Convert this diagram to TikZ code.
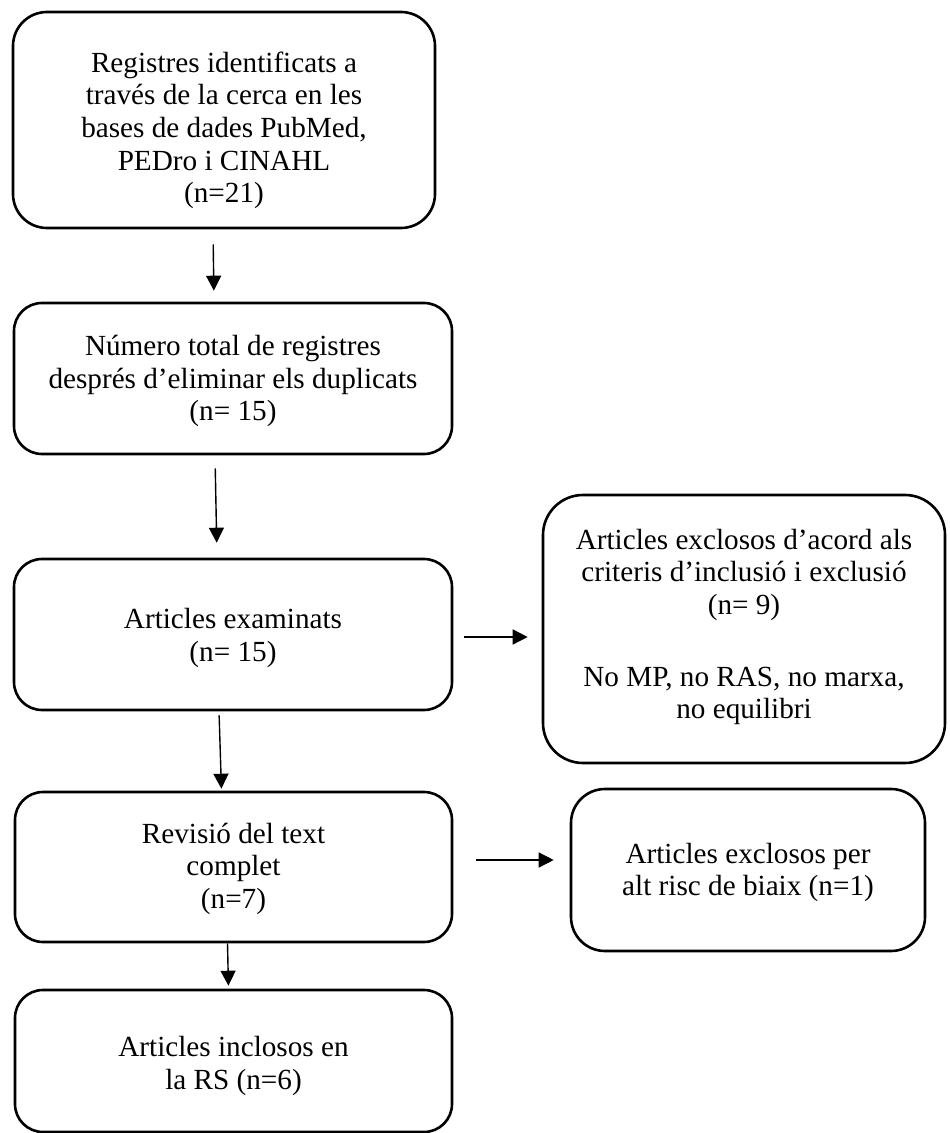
\documentclass[tikz,border=0pt]{standalone}
\usepackage{fontspec}
\setmainfont{Liberation Serif}
\usetikzlibrary{arrows.meta, positioning}

\begin{document}
\begin{tikzpicture}[
    x=0.5pt, y=-0.5pt,
    box/.style={draw, line width=1.3pt, rounded corners=14pt, inner sep=0pt},
    txt/.style={inner sep=0pt, align=center, font=\fontsize{14.6}{16.3}\selectfont},
    arr/.style={line width=0.7pt, -{Triangle[length=7.5pt, width=7.5pt]}}
  ]
    \useasboundingbox (0,0) rectangle (949,1133);
    % main column
    \node[box, minimum width=211pt, minimum height=108pt, rounded corners=17pt] (b1) at (224,120) {};
    \node[box, minimum width=219pt, minimum height=75.5pt] (b2) at (233,378.5) {};
    \node[box, minimum width=219pt, minimum height=75.5pt] (b3) at (233,634.5) {};
    \node[box, minimum width=218.5pt, minimum height=75pt] (b4) at (233.5,867) {};
    \node[box, minimum width=218.5pt, minimum height=71pt] (b5) at (233.5,1061) {};
    % exclusions
    \node[box, minimum width=201pt, minimum height=134pt, rounded corners=20pt] (r1) at (744,629) {};
    \node[box, minimum width=177pt, minimum height=81pt, rounded corners=17pt] (r2) at (748,870) {};
    % texts
    \node[txt] (t1) at ([yshift=-5.2pt]b1.center)
      {Registres identificats a\\través de la cerca en les\\bases de dades PubMed,\\PEDro i CINAHL\\(n=21)};
    \node[txt] (t2) at ([yshift=-1.3pt]b2.center)
      {Número total de registres\\després d’eliminar els duplicats\\(n= 15)};
    \node[txt] (t3) at ([yshift=-1.8pt]b3.center) {Articles examinats\\(n= 15)};
    \node[txt] (t4) at ([yshift=-0.8pt]b4.center) {Revisió del text\\complet\\(n=7)};
    \node[txt] (t5) at ([yshift=-2.5pt]b5.center) {Articles inclosos en\\la RS (n=6)};
    \node[txt] (u1) at ([yshift=1pt]r1.center)
      {Articles exclosos d’acord als\\criteris d’inclusió i exclusió\\(n= 9)\\[19.5pt]No MP, no RAS, no marxa,\\no equilibri};
    \node[txt] (u2) at ([yshift=-1.3pt]r2.center) {Articles exclosos per\\alt risc de biaix (n=1)};
    % connectors
    \draw[arr, shorten <=7.5pt, shorten >=5.5pt] ([xshift=-5.5pt]b1.south) -- ([xshift=-9.5pt]b2.north);
    \draw[arr, shorten <=6.5pt, shorten >=7.5pt] ([xshift=-9pt]b2.south) -- ([xshift=-8pt]b3.north);
    \draw[arr, shorten <=2pt, shorten >=1pt] ([xshift=-7pt]b3.south) -- ([xshift=-6pt]b4.north);
    \draw[arr, shorten <=0pt, shorten >=1.5pt] ([xshift=-3pt]b4.south) -- ([xshift=-2.5pt]b5.north);
    \draw[arr, shorten <=5.5pt, shorten >=7pt] (b3.east |- 0,637) -- (r1.west |- 0,637);
    \draw[arr, shorten <=11.5pt, shorten >=8pt] (b4.east |- 0,860) -- (r2.west |- 0,860);
\end{tikzpicture}
\end{document}
